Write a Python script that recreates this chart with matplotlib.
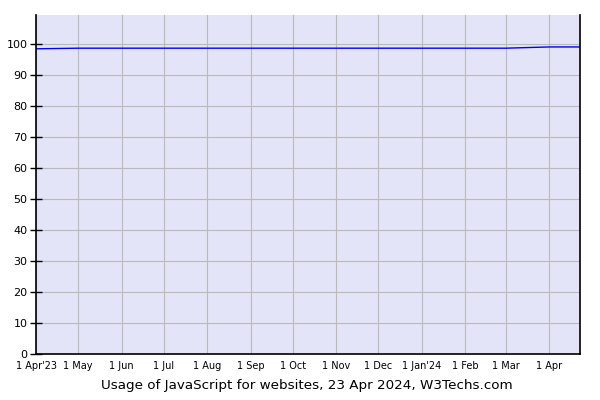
import numpy as np
import matplotlib.pyplot as plt
import matplotlib.dates as mdates
from datetime import date

# usage share of JavaScript (percent)
dates = [date(2023, 4, 1), date(2023, 5, 1), date(2023, 6, 1), date(2023, 7, 1),
         date(2023, 8, 1), date(2023, 9, 1), date(2023, 10, 1), date(2023, 11, 1),
         date(2023, 12, 1), date(2024, 1, 1), date(2024, 2, 1), date(2024, 3, 1),
         date(2024, 4, 1), date(2024, 4, 23)]
usage = [98.4, 98.6, 98.6, 98.6, 98.6, 98.6, 98.6, 98.6,
         98.6, 98.6, 98.6, 98.6, 99.0, 99.0]

tick_dates = [date(2023, 4, 1), date(2023, 5, 1), date(2023, 6, 1), date(2023, 7, 1),
              date(2023, 8, 1), date(2023, 9, 1), date(2023, 10, 1), date(2023, 11, 1),
              date(2023, 12, 1), date(2024, 1, 1), date(2024, 2, 1), date(2024, 3, 1),
              date(2024, 4, 1)]
tick_labels = ["1 Apr'23", "1 May", "1 Jun", "1 Jul", "1 Aug", "1 Sep", "1 Oct",
               "1 Nov", "1 Dec", "1 Jan'24", "1 Feb", "1 Mar", "1 Apr"]
y_ticks = list(range(0, 101, 10))

fig = plt.figure(figsize=(6, 4), dpi=100)
ax = fig.add_axes([36 / 600, 46 / 400, 544 / 600, 339 / 400])
ax.set_facecolor('#e4e4f8')

ax.plot(dates, usage, color='#0000ff', linewidth=1.0)

ax.set_xlim(date(2023, 4, 1), date(2024, 4, 23))
ax.set_ylim(0, 109.3)

ax.set_xticks(tick_dates)
ax.set_xticklabels(tick_labels, fontsize=7, family=['Liberation Sans Narrow', 'DejaVu Sans'])
ax.set_yticks(y_ticks)
ax.set_yticklabels([str(v) for v in y_ticks], fontsize=8)

ax.tick_params(axis='x', length=0, pad=5)
ax.tick_params(axis='y', direction='inout', length=8, width=1, pad=2)

ax.grid(True, color='#bababa', linewidth=0.8)
ax.set_axisbelow(True)

ax.spines['top'].set_visible(False)
for s in ['left', 'bottom', 'right']:
    ax.spines[s].set_color('black')
    ax.spines[s].set_linewidth(1.2)

fig.text(307 / 600, 1 - 385 / 400, "Usage of JavaScript for websites, 23 Apr 2024, W3Techs.com",
         ha='center', va='center', fontsize=9.7)

fig.savefig('out.png', dpi=100)
